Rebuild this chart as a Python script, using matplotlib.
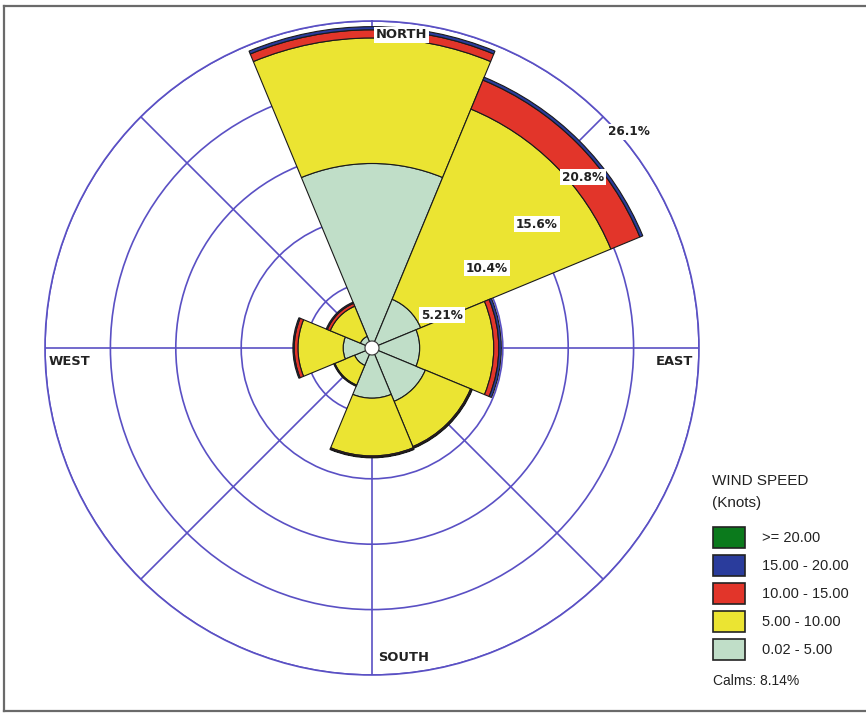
import numpy as np
import matplotlib
matplotlib.use("Agg")
import matplotlib.pyplot as plt
from matplotlib.patches import Rectangle, Circle

# Wind directions (compass degrees, clockwise from north)
directions = ["N", "NE", "E", "SE", "S", "SW", "W", "NW"]
dir_angles = [0, 45, 90, 135, 180, 225, 270, 315]

# Frequency (%) of each speed class per direction
speed_0_5 = [14.7, 4.2, 3.8, 4.6, 4.0, 1.5, 2.3, 1.0]
speed_5_10 = [10.0, 16.4, 5.9, 3.9, 4.6, 1.7, 3.6, 2.6]
speed_10_15 = [0.65, 2.5, 0.4, 0.1, 0.1, 0.05, 0.3, 0.25]
speed_15_20 = [0.25, 0.25, 0.2, 0.05, 0.05, 0.05, 0.1, 0.1]
speed_20_up = [0, 0, 0, 0, 0, 0, 0, 0]

class_labels = [">= 20.00", "15.00 - 20.00", "10.00 - 15.00", "5.00 - 10.00", "0.02 - 5.00"]
class_colors = ["#0b7a1c", "#2a3c9c", "#e2352a", "#ebe432", "#c0dec8"]
calms = 8.14

ring_values = [5.21, 10.42, 15.63, 20.84, 26.05]
ring_labels = ["5.21%", "10.4%", "15.6%", "20.8%", "26.1%"]
ring_label_angle = [64.8, 55.2, 53.1, 51.0, 49.9]
ring_label_radius = [6.17, 11.16, 16.44, 21.63, 26.74]

grid_color = "#5a50c4"

W, H = 866, 713
fig = plt.figure(figsize=(W / 100, H / 100), dpi=100)
fig.patch.set_facecolor("white")

cx, cy, R = 372, 348, 327
ax = fig.add_axes([(cx - R) / W, (H - cy - R) / H, 2 * R / W, 2 * R / H],
                  projection="polar")
ax.set_theta_zero_location("N")
ax.set_theta_direction(-1)
ax.set_ylim(0, ring_values[-1])
ax.set_yticks(ring_values)
ax.set_yticklabels([])
ax.set_xticks(np.radians(dir_angles))
ax.set_xticklabels([])
ax.grid(True, color=grid_color, linewidth=1.2)
ax.spines["polar"].set_color(grid_color)
ax.spines["polar"].set_linewidth(1.2)
ax.set_axisbelow(True)
ax.tick_params(length=0)

theta = np.radians(dir_angles)
width = np.radians(45)
bands = [speed_0_5, speed_5_10, speed_10_15, speed_15_20, speed_20_up]
band_colors = class_colors[::-1]
bottom = np.zeros(len(directions))
for vals, col in zip(bands, band_colors):
    vals = np.asarray(vals, dtype=float)
    if vals.sum() > 0:
        ax.bar(theta, vals, width=width, bottom=bottom, color=col,
               edgecolor="#1a1a1a", linewidth=0.8, align="center", zorder=2)
    bottom = bottom + vals

# calm circle at the centre
ax.add_patch(Circle((0.5, 0.5), 7 / (2 * R), transform=ax.transAxes,
                    facecolor="white", edgecolor="#333333", linewidth=0.8, zorder=5))

# ring percentage labels
for lab, ang, rr in zip(ring_labels, ring_label_angle, ring_label_radius):
    ax.text(np.radians(ang), rr, lab, ha="center", va="center",
            fontsize=8.7, fontweight="bold", color="#222222", family="DejaVu Sans",
            bbox=dict(facecolor="white", edgecolor="none", pad=1.2), zorder=6)

# compass labels
lab_kw = dict(fontsize=9.4, fontweight="bold", color="#222222", family="DejaVu Sans",
              transform=ax.transAxes, zorder=6)
ax.text(0.506, 0.979, "NORTH", ha="left", va="center",
        bbox=dict(facecolor="white", edgecolor="none", pad=1.0), **lab_kw)
ax.text(0.509, 0.026, "SOUTH", ha="left", va="center", **lab_kw)
ax.text(0.005, 0.480, "WEST", ha="left", va="center", **lab_kw)
ax.text(0.991, 0.480, "EAST", ha="right", va="center", **lab_kw)

# legend
def fx(px):
    return px / W

def fy(py):
    return 1 - py / H

txt_kw = dict(family="Liberation Sans", color="#222222")
fig.text(fx(712), fy(481), "WIND SPEED", ha="left", va="center", fontsize=11, **txt_kw)
fig.text(fx(712), fy(503), "(Knots)", ha="left", va="center", fontsize=11, **txt_kw)
box_tops = [527, 555, 583, 611, 639]
for top, lab, col in zip(box_tops, class_labels, class_colors):
    fig.patches.append(Rectangle((fx(713), fy(top + 21)), 32 / W, 21 / H,
                                 transform=fig.transFigure, facecolor=col,
                                 edgecolor="#222222", linewidth=1.2))
    fig.text(fx(762), fy(top + 11), lab, ha="left", va="center", fontsize=10.5, **txt_kw)
fig.text(fx(713), fy(681), f"Calms: {calms:.2f}%", ha="left", va="center",
         fontsize=10, **txt_kw)

# outer frame
frame_kw = dict(color="#6a6a6a", linewidth=1.6, transform=fig.transFigure)
fig.add_artist(plt.Line2D([fx(4), fx(4)], [fy(6), fy(711)], **frame_kw))
fig.add_artist(plt.Line2D([fx(4), 1], [fy(6), fy(6)], **frame_kw))
fig.add_artist(plt.Line2D([fx(4), 1], [fy(711), fy(711)], **frame_kw))

fig.savefig("out.png", dpi=100)
